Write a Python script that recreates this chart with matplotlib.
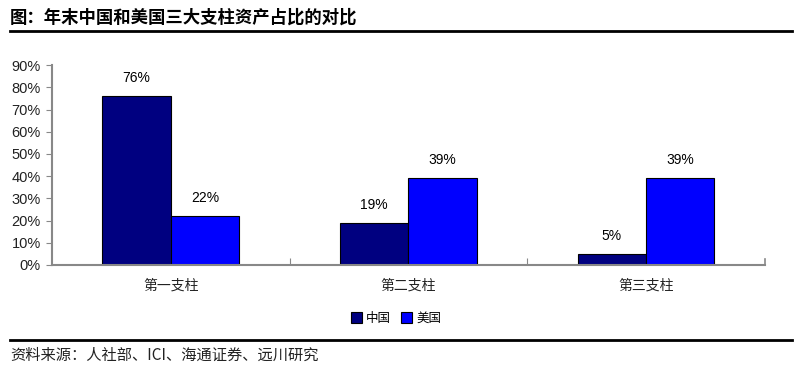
import numpy as np
import matplotlib.pyplot as plt
from matplotlib.lines import Line2D

plt.rcParams['font.family'] = ['Noto Sans CJK SC', 'DejaVu Sans']

categories = ['第一支柱', '第二支柱', '第三支柱']
china = [76, 19, 5]
usa = [22, 39, 39]
series_names = ['中国', '美国']
yticks = [0, 10, 20, 30, 40, 50, 60, 70, 80, 90]

fig = plt.figure(figsize=(8, 3.68), dpi=100)
ax = fig.add_axes([0.065, 0.28, 0.891, 0.543])

x = np.arange(len(categories))
w = 0.288
b1 = ax.bar(x - w / 2, china, w, color='#000080', edgecolor='black', linewidth=0.8, label=series_names[0])
b2 = ax.bar(x + w / 2, usa, w, color='#0000FF', edgecolor='black', linewidth=0.8, label=series_names[1])

for bars, vals in [(b1, china), (b2, usa)]:
    for r, v in zip(bars, vals):
        ax.text(r.get_x() + r.get_width() / 2, v + 5, f'{v}%', ha='center', va='bottom',
                fontsize=10, family='Liberation Sans')

ax.set_xlim(-0.5, 2.5)
ax.set_ylim(0, 90)
ax.set_yticks(yticks)
ax.set_yticklabels([f'{t}%' for t in yticks], fontsize=10.5, family='Liberation Sans', color='#222222')
ax.set_xticks([0.5, 1.5])
ax.set_xticklabels([])
ax.tick_params(axis='x', length=5, color='#888888', direction='in')
ax.tick_params(axis='y', length=4, color='#888888', direction='out', pad=4)
for i, c in enumerate(categories):
    ax.text(i, -6, c, ha='center', va='top', fontsize=10, color='#222222')

for s in ['top', 'right']:
    ax.spines[s].set_visible(False)
ax.spines['left'].set_color('#888888')
ax.spines['bottom'].set_color('#888888')
ax.spines['left'].set_linewidth(1.5)
ax.spines['bottom'].set_linewidth(1.5)

# right end tick of x axis
ax.plot([2.5, 2.5], [0, 2.5], color='#888888', lw=1.2, clip_on=False)

fig.legend(handles=[b1, b2], labels=series_names, loc='center', bbox_to_anchor=(0.495, 0.135),
           ncol=2, frameon=False, fontsize=9, handlelength=0.9, handleheight=0.9,
           handletextpad=0.3, columnspacing=0.8)

fig.text(0.0125, 0.951, '图：年末中国和美国三大支柱资产占比的对比', fontsize=12.5, fontweight='bold',
         va='center', ha='left')
fig.add_artist(Line2D([0.0125, 0.99], [0.916, 0.916], color='black', lw=2))
fig.add_artist(Line2D([0.0125, 0.99], [0.076, 0.076], color='black', lw=2))
fig.text(0.0125, 0.035, '资料来源：人社部、ICI、海通证券、远川研究', fontsize=11, va='center', ha='left',
         color='#222222')

fig.savefig('out.png', dpi=100)
